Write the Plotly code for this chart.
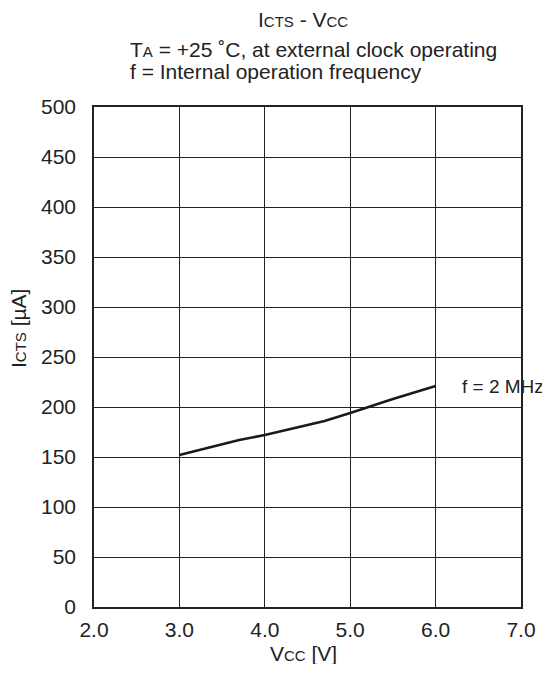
import plotly.graph_objects as go

vcc = [3.0, 3.7, 4.0, 4.7, 5.0, 5.25, 5.5, 6.0]
icts = [152, 167, 172, 186, 194, 201, 208, 221]
series_label = "f = 2 MHz"
x_ticks = [2, 3, 4, 5, 6, 7]
x_tick_text = ["2.0", "3.0", "4.0", "5.0", "6.0", "7.0"]
y_ticks = [0, 50, 100, 150, 200, 250, 300, 350, 400, 450, 500]

FONT = "Liberation Sans, Arial, sans-serif"
FS = 21
SCS = 15
COLOR = "#222"


def sc(t, size=SCS):
    return "<span style='font-size:%gpx'>%s</span>" % (size, t)


# figure sized so that it fits the 550x675 window together with the page's 8px body margin
W, H = 542, 656
L, T, PW, PH = 86, 99, 427, 500

fig = go.Figure()
fig.add_trace(go.Scatter(x=vcc, y=icts, mode="lines",
                         line=dict(color="#1a1a1a", width=2.5), showlegend=False,
                         hoverinfo="skip"))

fig.update_layout(
    width=W, height=H,
    margin=dict(l=L, r=W - L - PW, t=T, b=H - T - PH, pad=0),
    paper_bgcolor="white", plot_bgcolor="white",
    font=dict(family=FONT, size=FS, color=COLOR),
    xaxis=dict(range=[2, 7], tickvals=x_ticks, ticktext=x_tick_text,
               showgrid=True, gridcolor=COLOR, gridwidth=1,
               showline=True, linecolor=COLOR, linewidth=1.5, mirror=True,
               zeroline=False, ticks="", ticklabelstandoff=3, automargin=False),
    yaxis=dict(range=[0, 500], tickvals=y_ticks,
               showgrid=True, gridcolor=COLOR, gridwidth=1,
               showline=True, linecolor=COLOR, linewidth=1.5, mirror=True,
               zeroline=False, ticks="", ticklabelstandoff=12, automargin=False),
)


def px_x(p):
    return (p - 94) / PW


def px_y(p):
    return 1 + (107 - p) / PH


def note(x, y, text, size=FS, xanchor="center", angle=0):
    fig.add_annotation(x=x, y=y, xref="paper", yref="paper", text=text,
                       showarrow=False, xanchor=xanchor, yanchor="middle",
                       textangle=angle, font=dict(family=FONT, size=size, color=COLOR))


fig.add_annotation(x=6.0, y=icts[-1], xref="x", yref="y", text=series_label,
                   showarrow=False, xanchor="left", xshift=24, yshift=0,
                   font=dict(family=FONT, size=19, color=COLOR))
note(px_x(303), px_y(19), "I" + sc("CTS") + " - V" + sc("CC"))
note(px_x(128), px_y(50), "T" + sc("A") + " = +25 ˚C, at external clock operating", xanchor="left")
note(px_x(128), px_y(72), "f = Internal operation frequency", xanchor="left")
note(px_x(303), px_y(653), "V" + sc("CC") + " [V]")
note(px_x(18), px_y(329), "I" + sc("CTS") + " [µA]", angle=-90)

fig.write_html("out.html")
